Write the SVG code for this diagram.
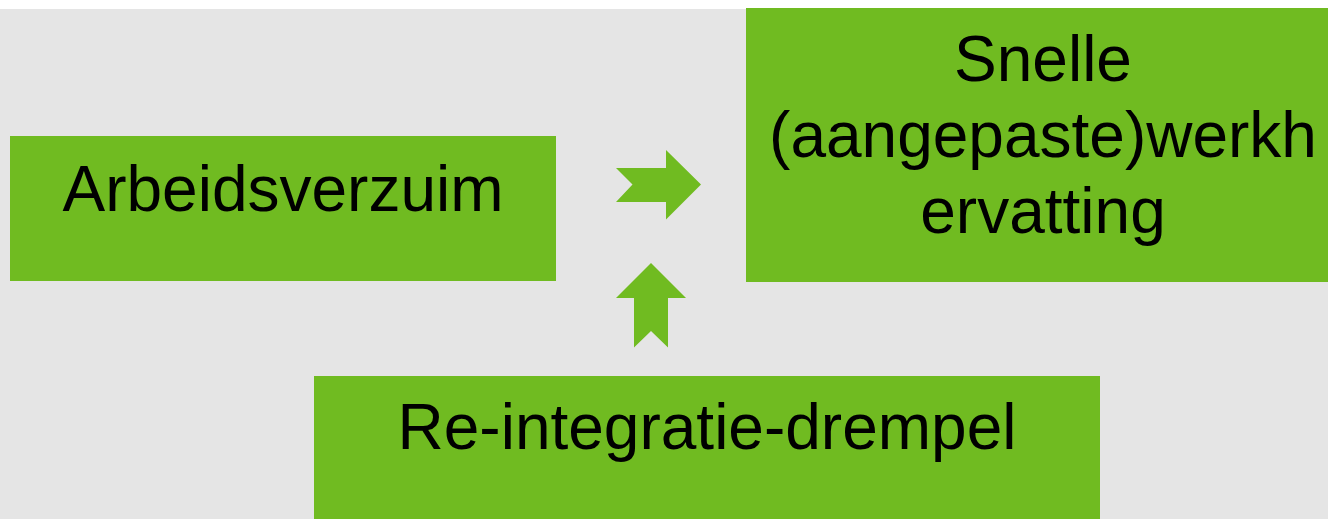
<svg xmlns="http://www.w3.org/2000/svg" width="1328" height="519" viewBox="0 0 1328 519">
  <style>
    .box { fill: #70bb21; }
    .arrow { fill: #70bb21; }
    .label { font-family: "Liberation Sans", Arial, sans-serif; font-size: 64px; fill: #000; text-anchor: middle; }
  </style>
  <!-- canvas -->
  <rect x="0" y="0" width="1328" height="519" fill="#ffffff"/>
  <rect x="0" y="9" width="1328" height="510" fill="#e5e5e5"/>

  <g id="node-arbeidsverzuim">
    <rect class="box" x="10" y="136" width="546" height="145"/>
    <text class="label" x="283" y="211">Arbeidsverzuim</text>
  </g>

  <g id="node-werkhervatting">
    <rect class="box" x="746" y="8" width="600" height="274"/>
    <text class="label" x="1043" y="81">Snelle</text>
    <text class="label" x="1043" y="157">(aangepaste)werkh</text>
    <text class="label" x="1043" y="233">ervatting</text>
  </g>

  <g id="node-drempel">
    <rect class="box" x="314" y="376" width="786" height="160"/>
    <text class="label" x="707" y="449">Re-integratie-drempel</text>
  </g>

  <g id="connectors">
    <!-- notched arrow pointing right -->
    <polygon class="arrow" points="616,168 666,168 666,150 701,184.5 666,219.5 666,202 616,202 632.5,184.5"/>
    <!-- notched arrow pointing up -->
    <polygon class="arrow" points="651,263 686,298 668,298 668,347.5 651,331 634,347.5 634,298 616,298"/>
  </g>
</svg>
